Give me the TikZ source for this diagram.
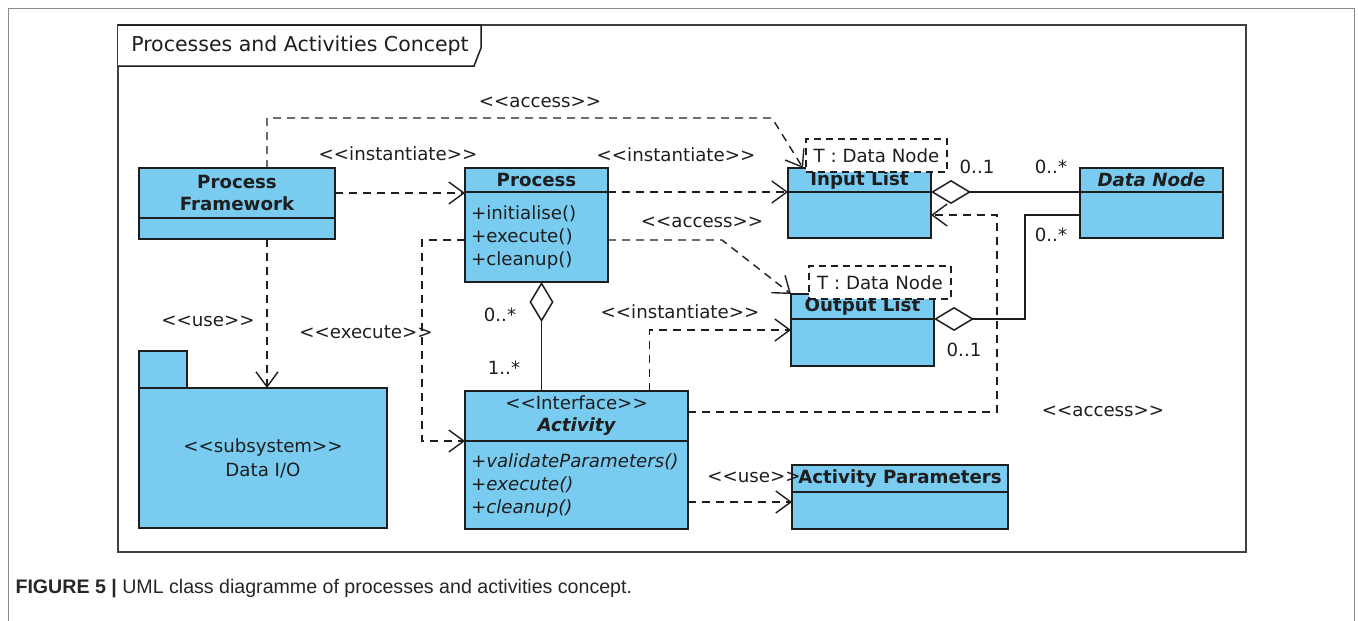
\documentclass[tikz,border=0pt]{standalone}
\usepackage{fontspec}
\setmainfont{DejaVu Sans}[Ligatures=TeXOff]
\newfontfamily\capfont{Liberation Sans}[Ligatures=TeXOff]
\usetikzlibrary{arrows.meta}
\definecolor{umlblue}{HTML}{79CBF0}
\definecolor{umlline}{HTML}{1E1E1E}
\definecolor{framegray}{HTML}{8A8A8A}

\begin{document}
\begin{tikzpicture}[x=1pt, y=-1pt,
  every node/.style={text=umlline, font=\fontsize{18.2}{22}\selectfont},
  clshead/.style={draw=umlline, fill=umlblue, line width=1.5pt, anchor=north west,
    inner sep=0pt, outer sep=0pt, align=center, font=\fontsize{18.2}{22}\selectfont\bfseries},
  clsbody/.style={draw=umlline, fill=umlblue, line width=1.5pt, anchor=north,
    inner xsep=6pt, inner ysep=0pt, outer sep=0pt, align=left},
  tmpl/.style={draw=umlline, fill=white, line width=1.3pt, dash pattern=on 7pt off 5pt,
    inner sep=0pt, minimum height=33pt},
  dep/.style={draw=umlline, line width=1.4pt, dash pattern=on 8pt off 6pt,
    -{Straight Barb[length=15pt,width=22pt]}},
  agg/.style={draw=umlline, line width=1.5pt, {Diamond[fill=white,length=40pt,width=24pt]}-},
]
\useasboundingbox (0,0) rectangle (1358,621);

% page border and package frame
\draw[framegray, line width=1pt] (8,621) -- (8,8) -- (1354,8) -- (1354,621);
\draw[umlline!85, line width=1.5pt] (118,25) rectangle (1246,552);
\draw[umlline, line width=1.5pt, fill=white] (118,25) -- (481,25) -- (481,48) -- (474,66) -- (118,66);
\node[font=\fontsize{20.5}{24}\selectfont] (title) at (300,46) {Processes and Activities Concept};

% ===== classes =====
\node[clshead, minimum width=196pt, minimum height=50pt] (pfh) at (139,168) {Process\\Framework};
\node[clsbody, minimum width=196pt, minimum height=21pt] (pfb) at (pfh.south) {};

\node[clshead, minimum width=143pt, minimum height=24pt] (proch) at (465,168) {Process};
\node[clsbody, minimum width=143pt, minimum height=90pt, text width=131pt] (procb) at (proch.south)
  {+initialise()\\[1pt]+execute()\\[1pt]+cleanup()};

\node[clshead, minimum width=143pt, minimum height=24pt] (inh) at (788,168) {Input List};
\node[clsbody, minimum width=143pt, minimum height=46pt] (inb) at (inh.south) {};

\node[clshead, minimum width=143pt, minimum height=24pt, font=\fontsize{18.2}{22}\selectfont\bfseries\itshape] (dnh) at (1080,168) {Data Node};
\node[clsbody, minimum width=143pt, minimum height=46pt] (dnb) at (dnh.south) {};

\node[clshead, minimum width=143pt, minimum height=25pt] (outh) at (791,294) {Output List};
\node[clsbody, minimum width=143pt, minimum height=47pt] (outb) at (outh.south) {};

\node[clshead, minimum width=223pt, minimum height=50pt] (acth) at (465,391)
  {\mdseries <<Interface>>\\\itshape Activity};
\node[clsbody, minimum width=223pt, minimum height=88pt, text width=211pt, font=\fontsize{18.2}{22}\selectfont\itshape] (actb) at (acth.south)
  {+validateParameters()\\[1pt]+execute()\\[1pt]+cleanup()};

\node[clshead, minimum width=216pt, minimum height=27pt] (aparh) at (792,465) {Activity Parameters};
\node[clsbody, minimum width=216pt, minimum height=37pt] (aparb) at (aparh.south) {};

% subsystem package
\node[clshead, minimum width=248pt, minimum height=140pt, font=\fontsize{18.2}{24}\selectfont] (pkg) at (139,388)
  {<<subsystem>>\\Data I/O};
\node[clshead, anchor=south west, minimum width=48pt, minimum height=37pt] (pkgtab) at (pkg.north west) {};

% ===== dependencies =====
\coordinate (accbend) at (772,118);
\draw[dep] ([xshift=30pt]pfh.north) |- (accbend) -- ([xshift=15pt]inh.north west);
\draw[dep] (pfh.east) -- (pfh.east -| proch.west);
\draw[dep] ([xshift=30pt]pfb.south) -- ([xshift=30pt]pfb.south |- pkg.north);
\draw[dep] (proch.south east) -- (inh.south west);
\draw[dep] ([yshift=-3pt]procb.west) -- ++(-43,0) |- (acth.south west);
\draw[dep] ([yshift=-3pt]procb.east) -- ++(114,0) -- (outh.north west);
\draw[dep] ([xshift=73pt]acth.north) |- ([yshift=-11pt]outb.north west);
\draw[dep] ([yshift=4pt]acth.east) -| ([xshift=66pt]inb.east) -- (inb.east);
\draw[dep] ([yshift=-17pt]actb.east) -- ([yshift=-17pt]actb.east -| aparb.west);

% ===== aggregations =====
\draw[agg] ([xshift=5pt]procb.south) -- ([xshift=5pt]procb.south |- acth.north);
\draw[agg] (inh.south east) -- (dnh.south west);
\draw[agg] (outh.south east) -- ++(91,0) |- (dnb.west);

% template parameters
\node[tmpl, minimum width=141pt] (intmpl) at (876.5,155.5) {T : Data Node};
\node[tmpl, minimum width=142pt] (outtmpl) at (880,282.5) {T : Data Node};

% ===== labels =====
\node (lbacc1) at (540,102) {<<access>>};
\node (lbinst1) at (398,154) {<<instantiate>>};
\node (lbinst2) at (676,155) {<<instantiate>>};
\node (lbacc2) at (702,222) {<<access>>};
\node (lbuse1) at (208,321) {<<use>>};
\node (lbexec) at (366,332) {<<execute>>};
\node (lbinst3) at (680,312) {<<instantiate>>};
\node (lbacc3) at (1103,411) {<<access>>};
\node (lbuse2) at (754,477) {<<use>>};

\node (mprocact) at (500,315) {0..*};
\node (mactproc) at (504,368) {1..*};
\node (minnode) at (977,167) {0..1};
\node (mnodein) at (1051,167) {0..*};
\node (mnodeout) at (1051,235) {0..*};
\node (moutnode) at (964,350) {0..1};

% caption
\node[anchor=west, font=\capfont\fontsize{19.6}{22}\selectfont, text=black!85] (caption) at (12,589)
  {\textbf{FIGURE 5 |} UML class diagramme of processes and activities concept.};
\end{tikzpicture}
\end{document}
